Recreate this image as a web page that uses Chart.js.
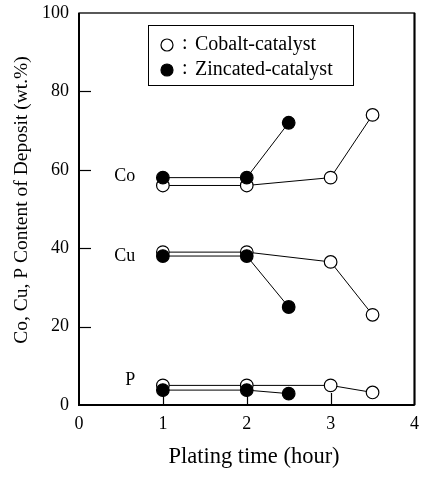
<!DOCTYPE html>
<html>
<head>
<meta charset="utf-8">
<script src="https://cdn.jsdelivr.net/npm/chart.js@4.4.1/dist/chart.umd.min.js"></script>
<style>
  html, body { margin: 0; padding: 0; background: #fff; }
  #wrap { width: 422px; height: 477px; position: relative; }
</style>
</head>
<body>
<div id="wrap"><canvas id="c" width="422" height="477"></canvas></div>
<script>
// ---- data ----
const seriesNames = ["Cobalt-catalyst", "Zincated-catalyst"];
const cobaltTime = [1, 2, 3, 3.5];
const cobaltCo = [56, 56, 58, 74];
const cobaltCu = [39, 39, 36.5, 23];
const cobaltP = [5, 5, 5, 3.2];
const zincTime = [1, 2, 2.5];
const zincCo = [58, 58, 72];
const zincCu = [38, 38, 25];
const zincP = [3.8, 3.8, 2.9];
const elementLabels = ["Co", "Cu", "P"];
const elementLabelY = [58.4, 38, 6.4];
const elementLabelX = 0.67;
const yTicks = [0, 20, 40, 60, 80, 100];
const xTicks = [0, 1, 2, 3, 4];
const yTitle = "Co, Cu, P Content of Deposit (wt.%)";
const xTitle = "Plating time (hour)";

const FONT = "'Liberation Serif', 'DejaVu Serif', serif";

function pts(xs, ys) { return xs.map((x, i) => ({ x: x, y: ys[i] })); }

function ds(xs, ys, filled) {
  return {
    data: pts(xs, ys),
    showLine: true,
    borderColor: '#000',
    borderWidth: 1,
    pointRadius: 6.3,
    pointHoverRadius: 6.3,
    pointBorderWidth: 1.2,
    pointBorderColor: '#000',
    pointBackgroundColor: filled ? '#000' : '#fff',
    backgroundColor: filled ? '#000' : '#fff',
    order: filled ? 1 : 2
  };
}

const datasets = [
  ds(cobaltTime, cobaltCo, false),
  ds(cobaltTime, cobaltCu, false),
  ds(cobaltTime, cobaltP, false),
  ds(zincTime, zincCo, true),
  ds(zincTime, zincCu, true),
  ds(zincTime, zincP, true)
];

const decor = {
  id: 'decor',
  beforeDatasetsDraw(chart) {
    const ctx = chart.ctx;
    const xs = chart.scales.x, ys = chart.scales.y;
    const a = chart.chartArea;
    ctx.save();
    ctx.strokeStyle = '#000';
    ctx.lineWidth = 1.2;
    yTicks.forEach(v => {
      if (v === 0 || v === 100) return;
      const py = Math.round(ys.getPixelForValue(v)) + 0.5;
      ctx.beginPath(); ctx.moveTo(a.left, py); ctx.lineTo(a.left + 12, py); ctx.stroke();
    });
    xTicks.forEach(v => {
      if (v === 0 || v === 4) return;
      const px = Math.round(xs.getPixelForValue(v)) + 0.5;
      ctx.beginPath(); ctx.moveTo(px, a.bottom); ctx.lineTo(px, a.bottom - 12); ctx.stroke();
    });
    ctx.lineWidth = 1.3;
    ctx.strokeRect(a.left, a.top, a.right - a.left, a.bottom - a.top);
    ctx.lineWidth = 2;
    ctx.beginPath(); ctx.moveTo(a.left, a.top); ctx.lineTo(a.left, a.bottom); ctx.lineTo(a.right, a.bottom); ctx.stroke();
    ctx.beginPath(); ctx.moveTo(a.right, a.top); ctx.lineTo(a.right, a.bottom); ctx.stroke();
    ctx.fillStyle = '#000';
    ctx.font = "18px " + FONT;
    ctx.textAlign = 'right';
    ctx.textBaseline = 'middle';
    elementLabels.forEach((t, i) => {
      ctx.fillText(t, xs.getPixelForValue(elementLabelX), ys.getPixelForValue(elementLabelY[i]));
    });
    // y axis title
    ctx.save();
    ctx.translate(22, 200);
    ctx.rotate(-Math.PI / 2);
    ctx.textAlign = 'center';
    ctx.font = "19.5px " + FONT;
    ctx.fillText(yTitle, 0, 0);
    ctx.restore();
    // x axis title
    ctx.textAlign = 'center';
    ctx.font = "22.5px " + FONT;
    ctx.fillText(xTitle, 254, 457);
    ctx.restore();
  },
  afterDraw(chart) {
    const ctx = chart.ctx;
    ctx.save();
    const bx = 148, by = 25, bw = 205, bh = 60;
    ctx.fillStyle = '#fff';
    ctx.fillRect(bx, by, bw, bh);
    ctx.strokeStyle = '#000';
    ctx.lineWidth = 1;
    ctx.strokeRect(bx + 0.5, by + 0.5, bw, bh);
    ctx.font = "20px " + FONT;
    ctx.textBaseline = 'middle';
    ctx.textAlign = 'left';
    const rows = [by + 20, by + 45];
    seriesNames.forEach((name, i) => {
      const cy = rows[i];
      ctx.beginPath();
      ctx.arc(bx + 19, cy, 6, 0, Math.PI * 2);
      ctx.fillStyle = i === 0 ? '#fff' : '#000';
      ctx.fill();
      ctx.lineWidth = 1.2;
      ctx.stroke();
      ctx.fillStyle = '#000';
      ctx.fillText(':', bx + 34, cy - 1);
      ctx.fillText(name, bx + 47, cy);
    });
    ctx.restore();
  }
};

new Chart(document.getElementById('c'), {
  type: 'scatter',
  data: { datasets: datasets },
  options: {
    responsive: false,
    animation: false,
    devicePixelRatio: 1,
    layout: { padding: { left: 0, right: 7, top: 13, bottom: 5 } },
    plugins: { legend: { display: false }, tooltip: { enabled: false } },
    scales: {
      x: {
        type: 'linear', min: 0, max: 4,
        afterBuildTicks(s) { s.ticks = xTicks.map(v => ({ value: v })); },
        afterFit(s) { s.height = 67; s.paddingLeft = 0; s.paddingRight = 0; },
        grid: { display: false, drawTicks: false },
        border: { display: false },
        ticks: { color: '#000', font: { family: FONT, size: 18 }, padding: 8 },
        title: { display: false }
      },
      y: {
        type: 'linear', min: 0, max: 100,
        afterBuildTicks(s) { s.ticks = yTicks.map(v => ({ value: v })); },
        afterFit(s) { s.width = 79; s.paddingTop = 0; s.paddingBottom = 0; },
        grid: { display: false, drawTicks: false },
        border: { display: false },
        ticks: { color: '#000', font: { family: FONT, size: 18 }, padding: 10 },
        title: { display: false }
      }
    }
  },
  plugins: [decor]
});
</script>
</body>
</html>
